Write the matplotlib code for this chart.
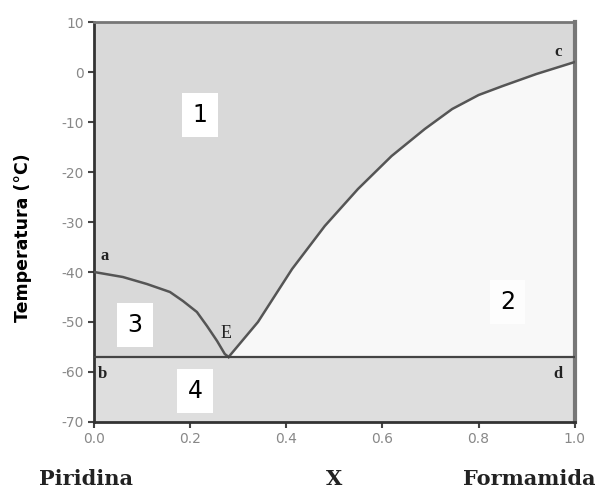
import numpy as np
import matplotlib
matplotlib.use('Agg')
import matplotlib.pyplot as plt

plt.rcParams['axes.unicode_minus'] = False

# liquidus branch from pure piridina (a) down to the eutectic E
x_left = [0.0, 0.06, 0.11, 0.158, 0.185, 0.214, 0.235, 0.256, 0.272, 0.28]
t_left = [-40.0, -41.0, -42.4, -44.0, -45.8, -48.0, -50.8, -53.8, -56.4, -57.0]

# liquidus branch from E up to pure formamida (c)
x_right = [0.28, 0.341, 0.412, 0.48, 0.549, 0.619, 0.688, 0.745, 0.80, 0.85, 0.92, 1.0]
t_right = [-57.0, -50.0, -39.4, -30.8, -23.4, -16.8, -11.4, -7.4, -4.6, -2.8, -0.4, 2.0]

t_eutectic = -57.0

region_labels = ['1', '2', '3', '4']
region_x = [0.22, 0.86, 0.085, 0.21]
region_t = [-8.6, -46.0, -50.6, -63.8]

point_labels = ['a', 'b', 'c', 'd', 'E']
point_x = [0.022, 0.018, 0.965, 0.965, 0.275]
point_t = [-36.8, -60.4, 4.0, -60.4, -52.3]

fig = plt.figure(figsize=(5.95, 4.95), dpi=100)
ax = fig.add_axes([0.158, 0.1475, 0.808, 0.808])

gray = '#d9d9d9'
ax.set_xlim(0, 1)
ax.set_ylim(-70, 10)
ax.set_facecolor(gray)

# region 2 (light) under the right branch
ax.fill_between(x_right, t_right, t_eutectic, color='#f8f8f8', zorder=1)
# region 4 below the eutectic line
ax.axhspan(-70, t_eutectic, color='#dedede', zorder=1)

ax.plot(x_left, t_left, color='#555555', lw=1.8, zorder=3)
ax.plot(x_right, t_right, color='#555555', lw=1.8, zorder=3)
ax.axhline(t_eutectic, color='#444444', lw=1.6, zorder=3)

for lab, x, t in zip(region_labels, region_x, region_t):
    fc = 'white' if lab != '2' else '#fdfdfd'
    ax.text(x, t, lab, fontsize=17, ha='center', va='center', zorder=4,
            family='DejaVu Sans',
            bbox=dict(facecolor=fc, edgecolor='none', pad=7.5))

for lab, x, t in zip(point_labels, point_x, point_t):
    ax.text(x, t, lab, fontsize=13 if lab == 'E' else 12, ha='center', va='center',
            family='Liberation Serif', fontweight='bold' if lab != 'E' else 'normal',
            color='#222222', zorder=5)

ax.set_xticks([0.0, 0.2, 0.4, 0.6, 0.8, 1.0])
ax.set_xticklabels(['0.0', '0.2', '0.4', '0.6', '0.8', '1.0'])
ax.set_yticks([10, 0, -10, -20, -30, -40, -50, -60, -70])
ax.tick_params(direction='out', length=4, width=1.5, colors='#444444',
               labelcolor='#888888', labelsize=10)
for side in ['left', 'bottom']:
    ax.spines[side].set_linewidth(2)
    ax.spines[side].set_color('#333333')
ax.spines['top'].set_linewidth(2)
ax.spines['top'].set_color('#777777')
ax.spines['right'].set_linewidth(3)
ax.spines['right'].set_color('#777777')

ax.set_ylabel('Temperatura (°C)', fontsize=12.5, fontweight='bold')
ax.yaxis.set_label_coords(-0.128, 0.46)

for txt, xf in [('Piridina', 0.145), ('X', 0.562), ('Formamida', 0.89)]:
    fig.text(xf, 0.012, txt, fontsize=15, fontweight='bold',
             family='DejaVu Serif', ha='center', va='bottom', color='#222222')

plt.savefig('out.png', dpi=100)
